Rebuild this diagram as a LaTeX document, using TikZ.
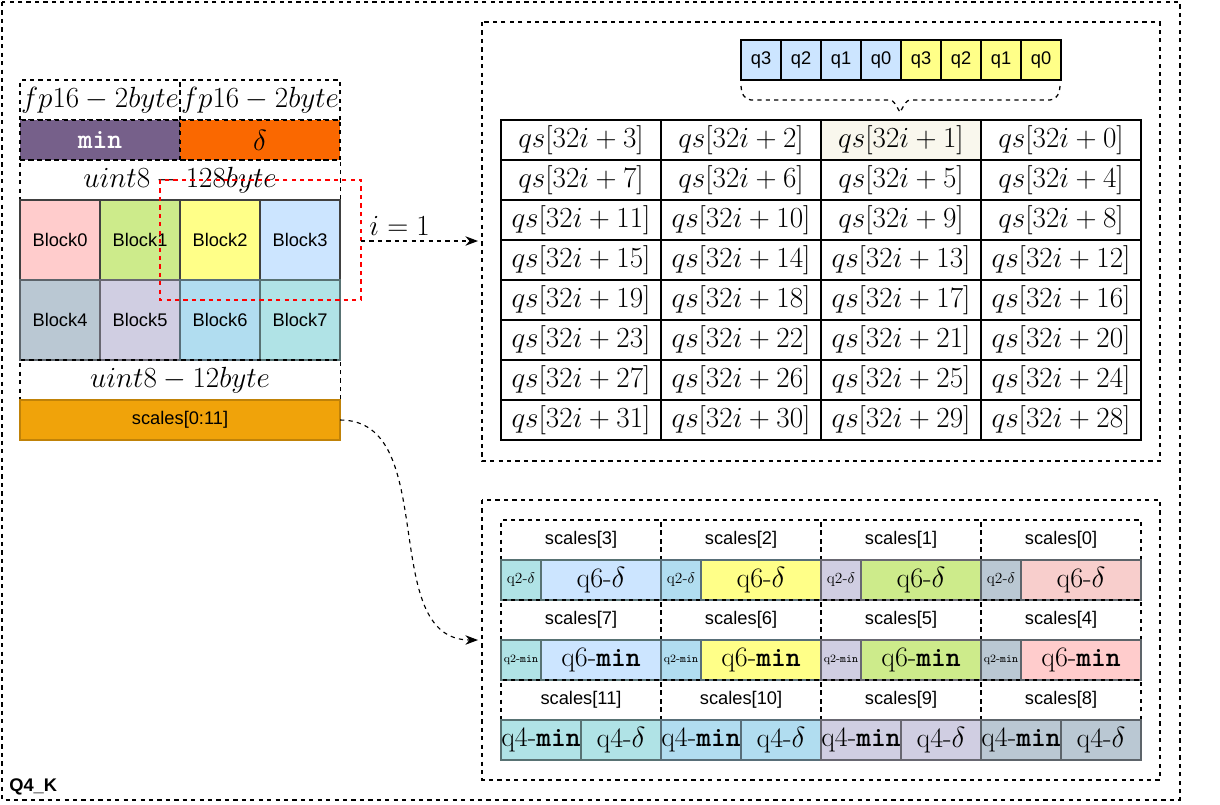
\documentclass[tikz,border=0pt]{standalone}
\usepackage{fontspec}
\setsansfont{Liberation Sans}
\usetikzlibrary{arrows.meta}
\definecolor{cRed}{HTML}{FFCCCC}
\definecolor{cRedL}{HTML}{F8CECC}
\definecolor{cGreen}{HTML}{CDEB8B}
\definecolor{cYellow}{HTML}{FFFF88}
\definecolor{cBlue}{HTML}{CCE5FF}
\definecolor{cGrey}{HTML}{BAC8D3}
\definecolor{cPurple}{HTML}{D0CEE2}
\definecolor{cSky}{HTML}{B1DDF0}
\definecolor{cTeal}{HTML}{B0E3E6}
\definecolor{cMin}{HTML}{76608A}
\definecolor{cDelta}{HTML}{FA6800}
\definecolor{cScale}{HTML}{F0A30A}
\definecolor{cHi}{HTML}{F9F7ED}
\tikzset{font=\sffamily\fontsize{13}{15}\selectfont}
\tikzstyle{cell}=[draw,inner sep=0pt,outer sep=0pt,anchor=north west]
\tikzstyle{dbox}=[draw,dashed,thick,inner sep=0pt,outer sep=0pt,anchor=north west]
\tikzstyle{mth}=[font=\fontsize{20}{22}\selectfont]

\begin{document}
\begin{tikzpicture}[x=0.025cm,y=-0.025cm,line width=0.9pt]
	\useasboundingbox (0,0) rectangle (1220,804);
	% frames
	\draw[dashed,thick] (2,2) rectangle (1180,800);
	\node[anchor=south west,font=\sffamily\bfseries\fontsize{13}{15}\selectfont] (title) at (4,800) {Q4\_K};
	\draw[dashed,thick] (482,22) rectangle (1160,461);
	\draw[dashed,thick] (482,500) rectangle (1160,780);
	% left column
	\node[dbox,minimum width=4cm,minimum height=1cm,mth] (fpa) at (20,80) {$fp16-2byte$};
	\node[dbox,minimum width=4cm,minimum height=1cm,mth] (fpb) at (180,80) {$fp16-2byte$};
	\node[dbox,fill=cMin,text=white,minimum width=4cm,minimum height=1cm,mth] (min) at (20,120) {\ttfamily\bfseries min};
	\node[dbox,fill=cDelta,minimum width=4cm,minimum height=1cm,mth] (delta) at (180,120) {$\delta$};
	\node[dbox,minimum width=8cm,minimum height=1cm,mth] (u128) at (20,160) {$uint8-128byte$};
	\foreach \c/\n [count=\k from 0] in {cRed/0,cGreen/1,cYellow/2,cBlue/3}
		\node[cell,fill=\c,draw=black!75,minimum width=2cm,minimum height=2cm] (blk\n) at (20+80*\k,200) {Block\n};
	\foreach \c/\n [count=\k from 0] in {cGrey/4,cPurple/5,cSky/6,cTeal/7}
		\node[cell,fill=\c,draw=\c!50!black,minimum width=2cm,minimum height=2cm] (blk\n) at (20+80*\k,280) {Block\n};
	\node[dbox,minimum width=8cm,minimum height=1cm,mth] (u12) at (20,360) {$uint8-12byte$};
	\node[cell,fill=cScale,draw=cScale!80!black,minimum width=8cm,minimum height=1cm] (scales) at (20,400) {scales[0:11]};
	\draw[red,dashed,thick] (160,180) rectangle (361,300);
	\coordinate (sel) at (361,241);
	\coordinate (top) at (478,241);
	\coordinate (bot) at (478,640);
	\draw[dashed,thick,-{Stealth[length=9pt]}] (sel) -- node[above,mth,pos=0.33] (ilab) {$i=1$} (top);
	\draw[dashed,thick,-{Stealth[length=9pt]}] (scales.east) to[out=0,in=180,looseness=1] (bot);
	% quant strip
	\foreach \q [count=\k from 0] in {q3,q2,q1,q0}
		\node[cell,fill=cBlue,minimum width=1cm,minimum height=1cm] (qb\k) at (741+40*\k,40) {\q};
	\foreach \q [count=\k from 0] in {q3,q2,q1,q0}
		\node[cell,fill=cYellow,minimum width=1cm,minimum height=1cm] (qy\k) at (901+40*\k,40) {\q};
	\draw[dashed] (741,86) to[out=-90,in=180] (751,100) -- (890,100) to[out=0,in=-90] (900,110) to[out=-90,in=180] (910,100) -- (1050,100) to[out=0,in=-90] (1060,86);
	% qs table
	\foreach \r in {0,...,7}
		\foreach \c in {0,...,3}{
			\pgfmathtruncatemacro{\v}{4*\r+3-\c}
			\node[cell,line width=1.2pt,minimum width=4cm,minimum height=1cm,mth] (qs\r\c) at (501+160*\c,120+40*\r) {$qs[32i+\v]$};
		}
	\fill[cHi] (821.8,120.8) rectangle (980.2,159.2);
	\node[mth] (qshi) at (901,140) {$qs[32i+1]$};
	% scale rows
	\foreach \c/\qa/\qb/\qc [count=\k from 0] in {cTeal/cBlue/cBlue/cTeal, cSky/cYellow/cYellow/cSky, cPurple/cGreen/cGreen/cPurple, cGrey/cRedL/cRed/cGrey}{
		\pgfmathtruncatemacro{\sa}{3-\k}
		\pgfmathtruncatemacro{\sb}{7-\k}
		\pgfmathtruncatemacro{\sc}{11-\k}
		\node[dbox,minimum width=4cm,minimum height=1cm] (sl\k a) at (501+160*\k,520) {scales[\sa]};
		\node[cell,fill=\c,draw=\c!50!black,minimum width=1cm,minimum height=1cm,font=\fontsize{11}{12}\selectfont] (qt\k a) at (501+160*\k,560) {q2-$\delta$};
		\node[cell,fill=\qa,draw=\c!50!black,minimum width=3cm,minimum height=1cm,mth] (qs\k a) at (541+160*\k,560) {q6-$\delta$};
		\node[dbox,minimum width=4cm,minimum height=1cm] (sl\k b) at (501+160*\k,600) {scales[\sb]};
		\node[cell,fill=\c,draw=\c!50!black,minimum width=1cm,minimum height=1cm,font=\fontsize{8}{9}\selectfont] (qt\k b) at (501+160*\k,640) {q2-\texttt{min}};
		\node[cell,fill=\qb,draw=\c!50!black,minimum width=3cm,minimum height=1cm,mth] (qs\k b) at (541+160*\k,640) {q6-\texttt{\bfseries min}};
		\node[dbox,minimum width=4cm,minimum height=1cm] (sl\k c) at (501+160*\k,680) {scales[\sc]};
		\node[cell,fill=\qc,draw=\c!50!black,minimum width=2cm,minimum height=1cm,mth] (qf\k c) at (501+160*\k,720) {q4-\texttt{\bfseries min}};
		\node[cell,fill=\qc,draw=\c!50!black,minimum width=2cm,minimum height=1cm,mth] (qd\k c) at (581+160*\k,720) {q4-$\delta$};
	}
\end{tikzpicture}
\end{document}
